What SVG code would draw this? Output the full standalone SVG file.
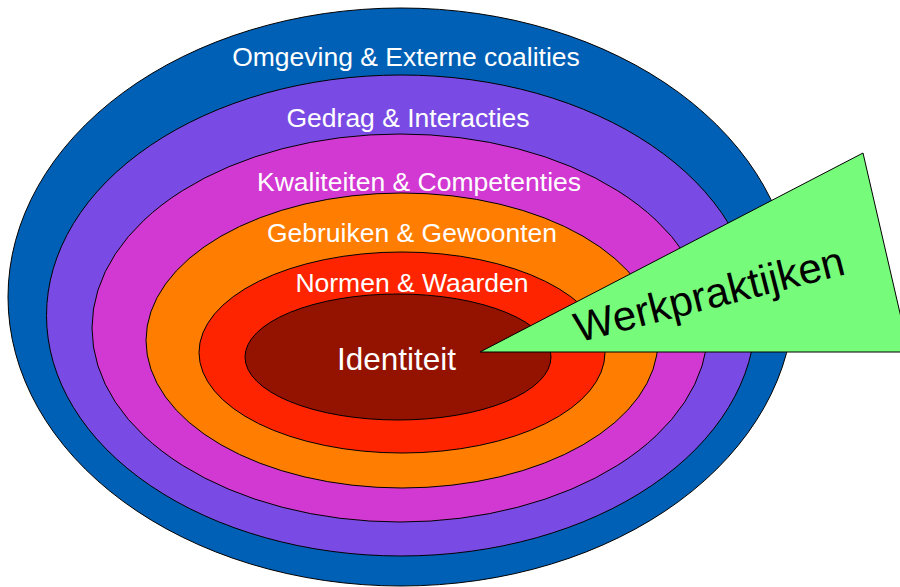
<svg xmlns="http://www.w3.org/2000/svg" width="900" height="587" viewBox="0 0 900 587">
<style>
.ring{stroke:#000;stroke-width:1}
.lbl{font-family:"Liberation Sans",Arial,sans-serif;fill:#fff;text-anchor:middle;font-size:26.5px}
</style>
<rect width="900" height="587" fill="#fff"/>
<g id="ring-omgeving">
<ellipse class="ring" cx="401" cy="297" rx="393" ry="289" fill="#0060b6"/>
</g>
<g id="ring-gedrag">
<ellipse class="ring" cx="401" cy="315.5" rx="354.5" ry="240.5" fill="#7a4be4"/>
</g>
<g id="ring-kwaliteiten">
<ellipse class="ring" cx="400" cy="328" rx="308" ry="194" fill="#d238d2"/>
</g>
<g id="ring-gebruiken">
<ellipse class="ring" cx="402" cy="340.5" rx="256" ry="147.5" fill="#ff7d00"/>
</g>
<g id="ring-normen">
<ellipse class="ring" cx="402" cy="352.5" rx="203" ry="100.5" fill="#ff2400"/>
</g>
<g id="ring-identiteit">
<ellipse class="ring" cx="398" cy="357" rx="153" ry="63" fill="#931200"/>
</g>
<g id="labels">
<text class="lbl" x="406" y="66">Omgeving &amp; Externe coalities</text>
<text class="lbl" x="408" y="127">Gedrag &amp; Interacties</text>
<text class="lbl" x="419" y="191">Kwaliteiten &amp; Competenties</text>
<text class="lbl" x="412" y="242">Gebruiken &amp; Gewoonten</text>
<text class="lbl" x="412" y="292">Normen &amp; Waarden</text>
<text class="lbl" x="396.5" y="370" style="font-size:31.5px">Identiteit</text>
</g>
<g id="werkpraktijken">
<polygon points="480,352 863,153 909,352" fill="#77fb7a" stroke="#000" stroke-width="1"/>
<text x="578.6" y="342.4" transform="rotate(-14.3 578.6 342.4)" style="font-family:'Liberation Sans',Arial,sans-serif;font-size:42px;fill:#000">Werkpraktijken</text>
</g>
</svg>
